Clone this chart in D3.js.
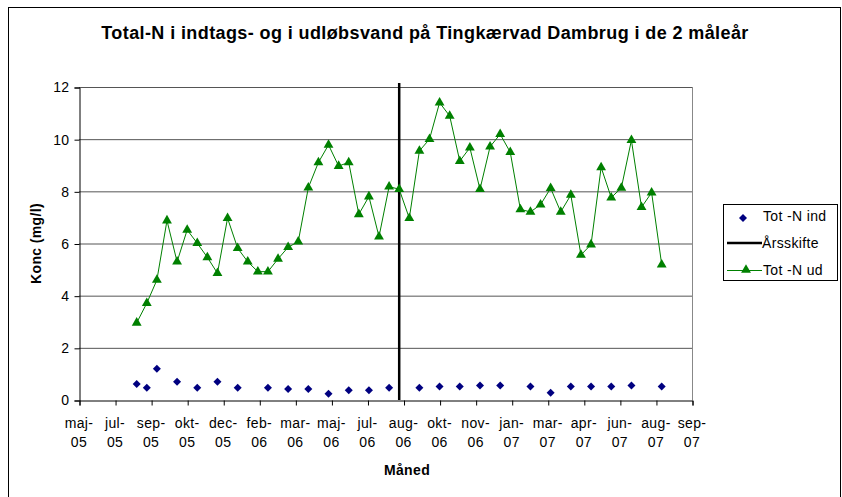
<!DOCTYPE html>
<html>
<head>
<meta charset="utf-8">
<script src="https://cdn.jsdelivr.net/npm/d3@7"></script>
<style>
  body { margin: 0; background: #fff; }
  text { font-family: "Liberation Sans", Arial, sans-serif; fill: #000; }
</style>
</head>
<body>
<div id="chart"></div>
<script>
// Sample dates for outlet water (every second week)
const udDates = [
  "2005-08-16","2005-08-30","2005-09-13","2005-09-27","2005-10-11","2005-10-25","2005-11-08","2005-11-22",
  "2005-12-06","2005-12-20","2006-01-03","2006-01-17","2006-01-31","2006-02-14","2006-02-28","2006-03-14",
  "2006-03-28","2006-04-11","2006-04-25","2006-05-09","2006-05-23","2006-06-06","2006-06-20","2006-07-04",
  "2006-07-18","2006-08-01","2006-08-15","2006-08-29","2006-09-12","2006-09-26","2006-10-10","2006-10-24",
  "2006-11-07","2006-11-21","2006-12-05","2006-12-19","2007-01-02","2007-01-16","2007-01-30","2007-02-13",
  "2007-02-27","2007-03-13","2007-03-27","2007-04-10","2007-04-24","2007-05-08","2007-05-22","2007-06-05",
  "2007-06-19","2007-07-03","2007-07-17","2007-07-31","2007-08-14"
];
const udValues = [
  2.96, 3.71, 4.60, 6.88, 5.30, 6.52, 6.01, 5.47, 4.86, 6.97, 5.82, 5.30, 4.92, 4.92, 5.41, 5.86,
  6.07, 8.14, 9.11, 9.78, 8.97, 9.11, 7.12, 7.80, 6.26, 8.18, 8.08, 6.97, 9.55, 10.0, 11.4, 10.89,
  9.16, 9.67, 8.08, 9.71, 10.19, 9.50, 7.31, 7.21, 7.49, 8.12, 7.21, 7.86, 5.56, 5.96, 8.92, 7.76,
  8.13, 9.96, 7.39, 7.95, 5.19
];

// Sample dates for intake water
const indDates = [
  "2005-08-16","2005-08-30","2005-09-13","2005-10-11","2005-11-08","2005-12-06","2006-01-03","2006-02-14",
  "2006-03-14","2006-04-11","2006-05-09","2006-06-06","2006-07-04","2006-08-01","2006-09-12","2006-10-10",
  "2006-11-07","2006-12-05","2007-01-02","2007-02-13","2007-03-13","2007-04-10","2007-05-08","2007-06-05",
  "2007-07-03","2007-08-14"
];
const indValues = [
  0.61, 0.47, 1.20, 0.70, 0.47, 0.70, 0.47, 0.47, 0.42, 0.42, 0.24, 0.37, 0.37, 0.47, 0.47, 0.52,
  0.52, 0.56, 0.56, 0.52, 0.28, 0.52, 0.52, 0.52, 0.56, 0.52
];

// Year change marker
const aarsskifteDate = "2006-08-15";
const aarsskifteRange = [0, 12.15];

// Axis labels
const xTickLabels = ["maj-05","jul-05","sep-05","okt-05","dec-05","feb-06","mar-06","maj-06","jul-06",
  "aug-06","okt-06","nov-06","jan-07","mar-07","apr-07","jun-07","aug-07","sep-07"];
const yTicks = [0, 2, 4, 6, 8, 10, 12];

const parse = d3.utcParse("%Y-%m-%d");
const xStart = parse("2005-05-28");
const xStep = 50; // days between axis labels

const W = 842, H = 497;
const plot = {left: 79, top: 87, right: 692, bottom: 400};
const fontSize = "14px";
const spacing = "0.35px";

const svg = d3.select("#chart").append("svg")
    .attr("width", W)
    .attr("height", H);

// chart frame
svg.append("rect")
    .attr("x", 8.5).attr("y", 7.5)
    .attr("width", 832).attr("height", 500)
    .attr("fill", "none")
    .attr("stroke", "#000")
    .attr("stroke-width", 1);

const x = d3.scaleUtc()
    .domain([xStart, d3.utcDay.offset(xStart, xStep * (xTickLabels.length - 1))])
    .range([plot.left, plot.right]);
const y = d3.scaleLinear().domain([0, 12]).range([plot.bottom, plot.top]);

// Gridlines
svg.append("g")
    .selectAll("line")
    .data(yTicks.filter(d => d > 0))
    .enter().append("line")
    .attr("x1", plot.left).attr("x2", plot.right)
    .attr("y1", d => y(d) + 0.5).attr("y2", d => y(d) + 0.5)
    .attr("stroke", "#555")
    .attr("stroke-width", 1);

// right border of plot area
svg.append("line")
    .attr("x1", plot.right + 0.5).attr("x2", plot.right + 0.5)
    .attr("y1", plot.top).attr("y2", plot.bottom)
    .attr("stroke", "#888");

// Y axis
const yAxis = svg.append("g")
    .attr("transform", `translate(${plot.left + 0.5},0.5)`)
    .call(d3.axisLeft(y).tickValues(yTicks).tickSize(5).tickPadding(5));
yAxis.select(".domain").attr("stroke", "#000");
yAxis.selectAll("text")
    .style("font-size", fontSize)
    .style("letter-spacing", spacing)
    .style("font-family", "Liberation Sans, Arial, sans-serif");

// X axis
const tickDates = xTickLabels.map((d, i) => d3.utcDay.offset(xStart, xStep * i));
const xAxis = svg.append("g")
    .attr("transform", `translate(0.5,${plot.bottom + 0.5})`)
    .call(d3.axisBottom(x).tickValues(tickDates).tickSize(5).tickFormat(""));
xAxis.select(".domain").attr("stroke", "#000");

const xLab = svg.append("g")
    .selectAll("text")
    .data(tickDates)
    .enter().append("text")
    .attr("x", d => x(d))
    .attr("y", 428)
    .attr("text-anchor", "middle")
    .style("font-size", fontSize)
    .style("letter-spacing", spacing);
xLab.append("tspan")
    .attr("x", d => x(d))
    .text((d, i) => xTickLabels[i].split("-")[0] + "-");
xLab.append("tspan")
    .attr("x", d => x(d))
    .attr("dy", 19)
    .text((d, i) => xTickLabels[i].split("-")[1]);

// Year change line
svg.append("line")
    .attr("x1", x(parse(aarsskifteDate))).attr("x2", x(parse(aarsskifteDate)))
    .attr("y1", y(aarsskifteRange[0])).attr("y2", y(aarsskifteRange[1]))
    .attr("stroke", "#000")
    .attr("stroke-width", 2.5);

// Outlet series
const udData = udDates.map((d, i) => ({date: parse(d), value: udValues[i]}));
const line = d3.line().x(d => x(d.date)).y(d => y(d.value));
svg.append("path")
    .datum(udData)
    .attr("d", line)
    .attr("fill", "none")
    .attr("stroke", "#008000")
    .attr("stroke-width", 1);

const tri = d3.symbol().type(d3.symbolTriangle).size(42);
svg.append("g")
    .selectAll("path")
    .data(udData)
    .enter().append("path")
    .attr("d", tri)
    .attr("transform", d => `translate(${x(d.date)},${y(d.value)})`)
    .attr("fill", "#008000");

// Intake series
const indData = indDates.map((d, i) => ({date: parse(d), value: indValues[i]}));
const dia = d3.symbol().type(d3.symbolSquare).size(32);
svg.append("g")
    .selectAll("path")
    .data(indData)
    .enter().append("path")
    .attr("d", dia)
    .attr("transform", d => `translate(${x(d.date)},${y(d.value)}) rotate(45)`)
    .attr("fill", "#000080");

// Titles
svg.append("text")
    .attr("x", 425).attr("y", 39)
    .attr("text-anchor", "middle")
    .style("font-size", "18px")
    .style("letter-spacing", "0.4px")
    .style("font-weight", "bold")
    .text("Total-N i indtags- og i udløbsvand på Tingkærvad Dambrug i de 2 måleår");

svg.append("text")
    .attr("transform", `translate(41,${(plot.top + plot.bottom) / 2}) rotate(-90)`)
    .attr("text-anchor", "middle")
    .style("font-size", fontSize)
    .style("letter-spacing", spacing)
    .style("font-weight", "bold")
    .text("Konc (mg/l)");

svg.append("text")
    .attr("x", 407).attr("y", 475)
    .attr("text-anchor", "middle")
    .style("font-size", fontSize)
    .style("letter-spacing", spacing)
    .style("font-weight", "bold")
    .text("Måned");

// Legend
const legend = svg.append("g").attr("transform", "translate(723,204)");
legend.append("rect")
    .attr("x", 0.5).attr("y", 0.5)
    .attr("width", 114).attr("height", 76)
    .attr("fill", "#fff")
    .attr("stroke", "#000");

legend.append("path")
    .attr("d", dia)
    .attr("transform", "translate(20,14) rotate(45)")
    .attr("fill", "#000080");
legend.append("line")
    .attr("x1", 4).attr("x2", 39).attr("y1", 39).attr("y2", 39)
    .attr("stroke", "#000").attr("stroke-width", 2.5);
legend.append("line")
    .attr("x1", 4).attr("x2", 39).attr("y1", 66.5).attr("y2", 66.5)
    .attr("stroke", "#008000").attr("stroke-width", 1);
legend.append("path")
    .attr("d", tri)
    .attr("transform", "translate(23,66)")
    .attr("fill", "#008000");

const legendLabels = ["Tot -N ind", "Årsskifte", "Tot -N ud"];
legend.selectAll("text.lbl")
    .data(legendLabels)
    .enter().append("text")
    .attr("class", "lbl")
    .attr("x", (d, i) => i === 1 ? 39 : 40)
    .attr("y", (d, i) => 17 + i * 27)
    .style("font-size", fontSize)
    .style("letter-spacing", spacing)
    .text(d => d);
</script>
</body>
</html>
